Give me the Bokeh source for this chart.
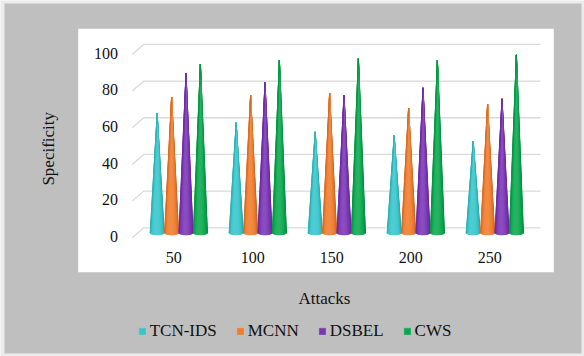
import numpy as np
from bokeh.plotting import figure
from bokeh.models import Range1d, ColumnDataSource, Legend, LegendItem
from bokeh.core.properties import value
from bokeh.embed import file_html
from bokeh.resources import INLINE

# ---------------- data ----------------
attacks = ["50", "100", "150", "200", "250"]
series = ["TCN-IDS", "MCNN", "DSBEL", "CWS"]
tcn_ids = [65, 60, 55, 53, 50]
mcnn = [74, 75, 76, 68, 70]
dsbel = [87, 82, 75, 79, 73]
cws = [92, 94, 95, 94, 97]
y_ticks = [0, 20, 40, 60, 80, 100]
colors = ["#38c6cb", "#f07c2c", "#7b34b6", "#0aa84e"]

# ---------------- layout helpers ----------------
W, H = 584, 356
X0, XS = 178.3, 79.0    # pixel of first group centre, pixels per category
Y0, YS = 232.3, 1.834   # pixel of cone base, pixels per value unit


def px2x(px):
    return (px - X0) / XS


def py2y(py):
    return (Y0 - py) / YS


FONT_NAME = "Liberation Serif"
FONT = value(FONT_NAME)

p = figure(width=W, height=H,
           x_range=Range1d(px2x(0), px2x(W)),
           y_range=Range1d(py2y(H), py2y(0)),
           x_axis_type=None, y_axis_type=None,
           toolbar_location=None, output_backend="svg",
           min_border=0, outline_line_color=None,
           background_fill_color="#ececec", border_fill_color="#ececec")

# outer grey area and white plot panel
p.quad(left=[px2x(4)], right=[px2x(581)], top=[py2y(3)], bottom=[py2y(353)],
       fill_color="#bfbfbf", line_color=None)
p.quad(left=[px2x(77.7)], right=[px2x(553.3)], top=[py2y(28.3)], bottom=[py2y(271.7)],
       fill_color="white", line_color=None)

# 3D-style gridlines (front slant + back wall)
back_shift = (Y0 - 227.3) / YS
front_shift = (237.3 - Y0) / YS
xa, xb, xc = px2x(131.7), px2x(143.3), px2x(540)
p.multi_line(xs=[[xa, xb, xc] for t in y_ticks],
             ys=[[t - front_shift, t + back_shift, t + back_shift] for t in y_ticks],
             line_color="#d9d9d9", line_width=1.3)

# y tick labels
p.text(x=[px2x(117.5)] * len(y_ticks), y=[t - (236.0 - Y0) / YS for t in y_ticks],
       text=[str(t) for t in y_ticks], text_align="right", text_baseline="middle",
       text_font=FONT, text_font_size="16px", text_color="#111111")

# x tick labels
p.text(x=list(range(len(attacks))), y=[py2y(256.5)] * len(attacks), x_offset=-5,
       text=attacks, text_align="center", text_baseline="middle",
       text_font=FONT, text_font_size="16px", text_color="#111111")

# axis titles
p.text(x=[px2x(324)], y=[py2y(298)], text=["Attacks"], text_align="center",
       text_baseline="middle", text_font=FONT, text_font_size="17px", text_color="#111111")
p.text(x=[px2x(48.3)], y=[py2y(148.3)], text=["Specificity"], angle=np.pi / 2,
       text_align="center", text_baseline="middle", text_font=FONT,
       text_font_size="17px", text_color="#111111")

# ---------------- cones ----------------
r = 7.0 / XS          # base half-width (data units)
b = 2.0 / YS          # base ellipse half-height
step = 14.4 / XS      # distance between cones in a group
NS = 18               # shading slices
thetas = np.linspace(0, np.pi, NS + 1)


def hex2rgb(h):
    h = h.lstrip("#")
    return np.array([int(h[i:i + 2], 16) for i in (0, 2, 4)], dtype=float)


def shade(rgb, k):
    if k > 1:
        c = rgb + (255 - rgb) * min(1.0, (k - 1) * 1.3)
    else:
        c = rgb * k
    c = np.clip(c, 0, 255).astype(int)
    return "#%02x%02x%02x" % tuple(c)


all_values = [tcn_ids, mcnn, dsbel, cws]
legend_items = []
sx, sy, sc = [], [], []
for j, (name, vals, col) in enumerate(zip(series, all_values, colors)):
    rgb = hex2rgb(col)
    xs_sil, ys_sil = [], []
    for i, v in enumerate(vals):
        cx = i + (j - 1.5) * step
        ex = cx + r * np.cos(thetas)
        ey = -b * np.sin(thetas)
        xs_sil.append([cx] + list(ex))
        ys_sil.append([v] + list(ey))
        for k in range(NS):
            tm = 0.5 * (thetas[k] + thetas[k + 1])
            t = np.cos(tm - 1.75)
            fc = shade(rgb, 0.80 + 0.30 * t)
            sx.append([cx, ex[k], ex[k + 1]])
            sy.append([v, ey[k], ey[k + 1]])
            sc.append(fc)
    rend = p.patches(xs=xs_sil, ys=ys_sil, fill_color=col, line_color=col, line_width=0.5)
    legend_items.append(LegendItem(label=name, renderers=[rend]))

p.patches(xs="xs", ys="ys", source=ColumnDataSource(dict(xs=sx, ys=sy, c=sc)),
          fill_color="c", line_color="c", line_width=0.6)

legend = Legend(items=legend_items, orientation="horizontal", location=(137.7, 15),
                label_text_font=FONT_NAME, label_text_font_size="17px",
                label_text_color="#111111",
                glyph_width=8, glyph_height=8, label_standoff=4, spacing=19,
                padding=0, margin=0, background_fill_alpha=0, border_line_color=None)
p.add_layout(legend)

open("out.html", "w").write(file_html(p, INLINE))
